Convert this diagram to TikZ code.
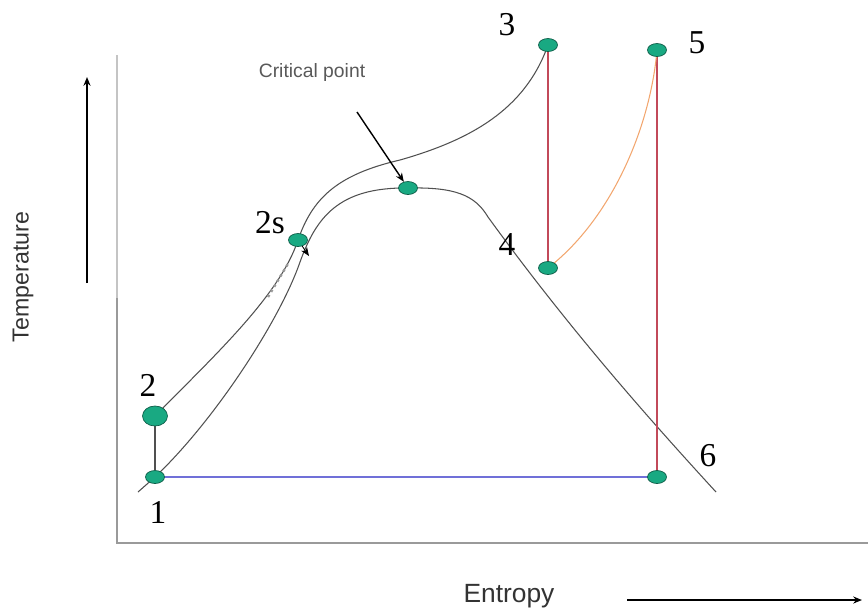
\documentclass[tikz,border=0pt]{standalone}
\usepackage{fontspec}
\setmainfont{Liberation Serif}
\setsansfont{Liberation Sans}
\usetikzlibrary{shapes.geometric, arrows.meta, positioning, calc, backgrounds}
\definecolor{PointGreen}{HTML}{19A982}
\definecolor{CurveGray}{HTML}{505050}
\definecolor{AxisGray}{HTML}{9A9A9A}
\definecolor{AxisLight}{HTML}{C4C4C4}
\definecolor{LineBlue}{HTML}{7070D8}
\definecolor{LineRed}{HTML}{C24A5A}
\definecolor{LineOrange}{HTML}{F2A66E}
\tikzset{
    statept/.style={
        ellipse,
        draw=PointGreen!55!black,
        line width=0.4pt,
        fill=#1,
        minimum width=0.38cm,
        minimum height=0.26cm,
        inner sep=0pt
    },
    statept/.default=PointGreen,
    numlabel/.style={
        font=\fontsize{19}{19}\selectfont,
        text=black,
        inner sep=0pt
    },
    axislabel/.style={
        font=\sffamily\fontsize{14}{14}\selectfont,
        text=black!80,
        inner sep=0pt
    },
    curve/.style={
        CurveGray,
        line width=0.6pt
    },
    arrow/.style={
        -{Stealth[length=5pt, width=4pt]},
        line width=0.8pt,
        black
    }
}
\begin{document}
\begin{tikzpicture}[x=0.02cm, y=-0.02cm]
        \useasboundingbox (0,0) rectangle (868,610);

        % State points
        \node[statept] (p1) at (155,477) {};
        \node[statept, minimum width=0.5cm, minimum height=0.4cm] (p2) at (155,416) {};
        \node[statept] (p2s) at (298,240) {};
        \node[statept] (pc) at (408,188) {};
        \node[statept] (p3) at (548,45) {};
        \node[statept] (p4) at (548,268) {};
        \node[statept] (p5) at (657,50) {};
        \node[statept] (p6) at (657,477) {};

        % Point labels
        \node[numlabel] (l1) at (158,512) {1};
        \node[numlabel] (l2) at (148,385) {2};
        \node[numlabel] (l2s) at (270,223) {2s};
        \node[numlabel] (l3) at (507,25) {3};
        \node[numlabel] (l4) at (507,244) {4};
        \node[numlabel] (l5) at (697,43) {5};
        \node[numlabel] (l6) at (708,456) {6};

        % Axis labels
        \node[axislabel, font=\sffamily\fontsize{11}{11}\selectfont, text=black!65] (crit) at (312,72) {Critical point};
        \node[axislabel, rotate=90, font=\sffamily\fontsize{13.2}{13.2}\selectfont] (temp) at (23,277) {Temperature};
        \node[axislabel, font=\sffamily\fontsize{15}{15}\selectfont] (ent) at (509,596) {Entropy};

        % Free ends
        \coordinate (tempTail) at (87,283);
        \coordinate (tempHead) at (87,77);
        \coordinate (entTail) at (627,600);
        \coordinate (entHead) at (862,600);
        \coordinate (axTop) at (117,55);
        \coordinate (axMid) at (117,298);
        \coordinate (axCorner) at (117,543);
        \coordinate (axRight) at (868,543);
        \coordinate (critTail) at (357,112);
        \coordinate (sTip) at (309,256);
        \coordinate (hatchA) at (268,297);
        \coordinate (hatchB) at (289,262);
        \coordinate (domeStart) at (138,492);
        \coordinate (domeA) at (300,262);
        \coordinate (domeB) at (488,217);
        \coordinate (domeEnd) at (716,492);
        \coordinate (outerA) at (400,160);

        \begin{scope}[on background layer]
            % Frame
            \draw[AxisLight, line width=1.6pt] (axTop) -- (axMid);
            \draw[AxisGray, line width=0.8pt] (axMid) -- (axCorner) -- (axRight);

            % Saturation dome
            \draw[curve] (domeStart) -- (p1.center)
                .. controls (215,420) and (280,320) .. (domeA)
                .. controls (316,218) and (338,187) .. (pc.center)
                .. controls (455,187) and (475,195) .. (domeB)
                .. controls (570,330) and (650,420) .. (domeEnd);

            % Heating line 2-3
            \draw[curve] (p2.center)
                .. controls (215,355) and (280,295) .. (p2s.center)
                .. controls (312,200) and (335,175) .. (outerA)
                .. controls (470,140) and (525,110) .. (p3.center);

            \draw[curve, line width=0.8pt] (p1) -- (p2);
            \draw[LineBlue, line width=0.8pt] (p1.center) -- (p6.center);
            \draw[LineRed, line width=0.8pt] (p3.center) -- (p4.center);
            \draw[LineRed, line width=0.8pt] (p5.center) -- (p6.center);
            \draw[LineOrange, line width=0.6pt] (p4.center) .. controls (610,220) and (650,130) .. (p5.center);
            \draw[AxisGray, line width=1.4pt, dotted] (hatchA) -- (hatchB);
        \end{scope}

        % Arrows
        \draw[arrow] (critTail) -- (pc);
        \draw[arrow, line width=0.5pt] (p2s) -- (sTip);
        \draw[arrow] (tempTail) -- (tempHead);
        \draw[arrow] (entTail) -- (entHead);
    \end{tikzpicture}
\end{document}
